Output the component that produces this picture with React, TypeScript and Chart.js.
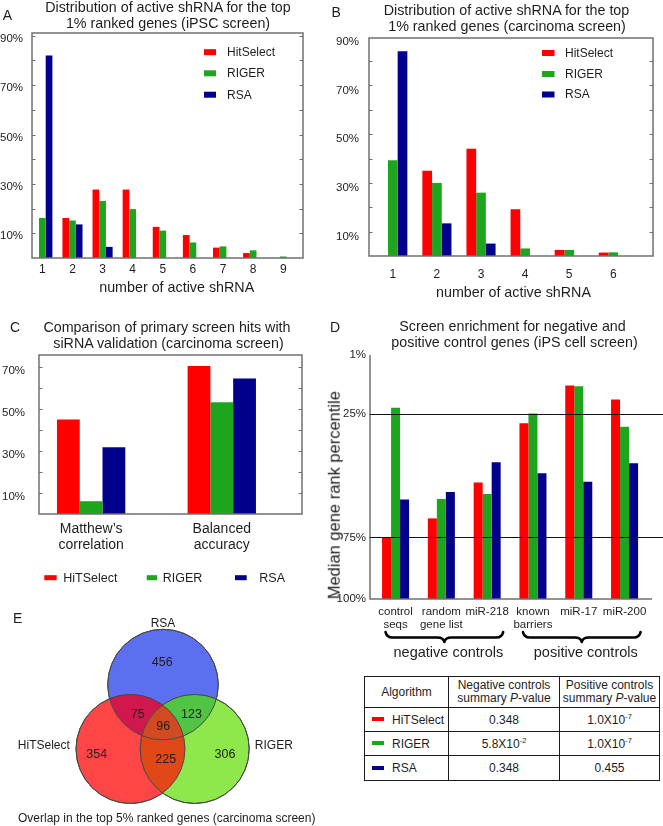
import React, { useEffect, useRef } from 'react';
import { Chart, registerables } from 'chart.js';

Chart.register(...registerables);

const FONT = "'Liberation Sans', Arial, Helvetica, sans-serif";
Chart.defaults.font.family = FONT;
Chart.defaults.color = '#1e1e1e';

const TEXT = '#1e1e1e';
const AXIS = '#707070';
const RED = '#ff0000';
const GREEN = '#1ea51e';
const BLUE = '#00008b';

// ---------------- Panel A (iPSC screen) ----------------
const activeCountsA = [1, 2, 3, 4, 5, 6, 7, 8, 9];
const hitSelectA = [0, 16.2, 27.7, 27.7, 12.6, 9.3, 4.2, 2.0, 0];
const rigerA = [16.2, 15.2, 23.1, 19.8, 11.1, 6.3, 4.7, 3.1, 0.6];
const rsaA = [82.0, 13.6, 4.5, 0, 0, 0, 0, 0, 0];

// ---------------- Panel B (carcinoma screen) ----------------
const activeCountsB = [1, 2, 3, 4, 5, 6];
const hitSelectB = [0, 35.0, 44.0, 19.2, 2.5, 1.4];
const rigerB = [39.3, 30.0, 26.0, 3.1, 2.5, 1.5];
const rsaB = [84.1, 13.4, 5.1, 0, 0, 0];

const percentTicksAB = [0, 10, 20, 30, 40, 50, 60, 70, 80, 90];
const percentTicksC = [0, 10, 20, 30, 40, 50, 60, 70];
const labelledPercents = [10, 30, 50, 70, 90];

// ---------------- Panel C ----------------
const metricsC = [['Matthew\u2019s', 'correlation'], ['Balanced', 'accuracy']];
const metricPositionsC = [1, 2];
const hitSelectC = [45.1, 70.5];
const rigerC = [6.1, 53.3];
const rsaC = [31.8, 64.6];

// ---------------- Panel D ----------------
const geneSetsD = [['control', 'seqs'], ['random', 'gene list'], 'miR-218', ['known', 'barriers'], 'miR-17', 'miR-200'];
const geneSetPositionsD = [1, 2, 3, 4, 5, 6];
const hitSelectD = [75.0, 67.3, 52.7, 28.7, 13.4, 19.1];
const rigerD = [22.4, 59.4, 57.4, 24.7, 13.7, 30.1];
const rsaD = [59.6, 56.6, 44.5, 49.0, 52.4, 44.9];
const percentileTicksD = [1, 25, 75, 100];
const referenceLinesD = [25, 75];
const controlGroupsD = [
  { label: 'negative controls', from: 1, to: 3 },
  { label: 'positive controls', from: 4, to: 6 },
];

// ---------------- Table ----------------
const tableAlgorithms = ['HiTSelect', 'RIGER', 'RSA'];
const tableColors = [RED, GREEN, BLUE];
const negativeP = ['0.348', '5.8X10^-2', '0.348'];
const positiveP = ['1.0X10^-7', '1.0X10^-7', '0.455'];

// ---------------- Panel E (Venn) ----------------
const vennSets = ['RSA', 'HiTSelect', 'RIGER'];
const vennSetColors = ['#5b6ff0', '#ff4646', '#8ee84c'];
const vennRegionCounts = [456, 354, 306, 75, 123, 225, 96]; // RSA only, Hit only, RIGER only, RSA∩Hit, RSA∩RIGER, Hit∩RIGER, all
const vennOverlapColors = { rsaHit: '#d0184e', rsaRiger: '#52c444', hitRiger: '#e04818', all: '#d24a20' };
const vennLayout = [
  { x: 163, y: 84.6, r: 55.3 },
  { x: 130.5, y: 149, r: 54.5 },
  { x: 194.7, y: 149, r: 54.5 },
];
const vennLabelPos = [
  [162.3, 61], [96.7, 153.3], [225, 153.3], [137.8, 113.5], [191.5, 113.5], [165.7, 158.3], [163.3, 125],
];

type Area = { left: number; top: number; right: number; bottom: number };

function framePlugin(tickLen: number) {
  return {
    id: 'frameTicks',
    afterDatasetsDraw(chart: any) {
      const { ctx, chartArea: a } = chart;
      const y = chart.scales.y;
      ctx.save();
      ctx.strokeStyle = AXIS;
      ctx.lineWidth = 1.5;
      ctx.strokeRect(a.left, a.top, a.right - a.left, a.bottom - a.top);
      ctx.lineWidth = 1;
      ctx.beginPath();
      y.ticks.forEach((t: any) => {
        const py = Math.round(y.getPixelForValue(t.value)) + 0.5;
        if (py < a.top + 2 || py > a.bottom - 2) return;
        ctx.moveTo(a.left, py);
        ctx.lineTo(a.left + tickLen, py);
        ctx.moveTo(a.right, py);
        ctx.lineTo(a.right - tickLen, py);
      });
      ctx.stroke();
      ctx.restore();
    },
  };
}

type LegendItem = { text: string; color: string; bx: number; bw: number; tx: number; y: number };

function legendPlugin(items: LegendItem[], boxH: number, size: number) {
  return {
    id: 'panelLegend',
    afterDraw(chart: any) {
      const ctx = chart.ctx;
      ctx.save();
      ctx.font = `${size}px ${FONT}`;
      ctx.textBaseline = 'middle';
      ctx.textAlign = 'left';
      items.forEach((it) => {
        ctx.fillStyle = it.color;
        ctx.fillRect(it.bx, it.y - boxH / 2, it.bw, boxH);
        ctx.fillStyle = TEXT;
        ctx.fillText(it.text, it.tx, it.y + 0.5);
      });
      ctx.restore();
    },
  };
}

interface BarSpec {
  W: number;
  H: number;
  area: Area;
  positions: number[];
  series: { name: string; data: number[]; color: string }[];
  xMin: number;
  xMax: number;
  yMax: number;
  yTicks: number[];
  yLabelOffset: number;
  yPad: number;
  xPad: number;
  catPct: number;
  xFont: any;
  xLabel: (v: number) => any;
  legendItems: LegendItem[];
  legendBoxH: number;
  legendSize: number;
}

function framedBarConfig(s: BarSpec): any {
  return {
    type: 'bar',
    data: {
      labels: s.positions,
      datasets: s.series.map((d) => ({
        label: d.name,
        data: d.data,
        backgroundColor: d.color,
        borderWidth: 0,
        categoryPercentage: s.catPct,
        barPercentage: 1,
      })),
    },
    options: {
      responsive: false,
      animation: false,
      devicePixelRatio: 1,
      events: [],
      layout: { padding: { left: 0, top: s.area.top, right: s.W - s.area.right, bottom: 0 } },
      plugins: { legend: { display: false }, tooltip: { enabled: false }, title: { display: false } },
      scales: {
        x: {
          type: 'linear',
          min: s.xMin,
          max: s.xMax,
          offset: false,
          grid: { display: false, drawTicks: false },
          border: { display: false },
          afterBuildTicks: (sc: any) => {
            sc.ticks = s.positions.map((v) => ({ value: v }));
          },
          afterFit: (sc: any) => {
            sc.height = s.H - s.area.bottom;
          },
          ticks: {
            autoSkip: false,
            maxRotation: 0,
            padding: s.xPad,
            font: s.xFont,
            color: TEXT,
            callback: (v: any) => s.xLabel(Number(v)),
          },
        },
        y: {
          type: 'linear',
          min: 0,
          max: s.yMax,
          grid: { display: false, drawTicks: false },
          border: { display: false },
          afterBuildTicks: (sc: any) => {
            sc.ticks = s.yTicks.map((v) => ({ value: v }));
          },
          afterFit: (sc: any) => {
            sc.width = s.area.left;
          },
          ticks: {
            padding: s.yPad,
            labelOffset: s.yLabelOffset,
            font: { size: 11.5 },
            color: TEXT,
            callback: (v: any) => (labelledPercents.includes(Number(v)) ? `${v}%` : ''),
          },
        },
      },
    },
    plugins: [framePlugin(3.5), legendPlugin(s.legendItems, s.legendBoxH, s.legendSize)],
  };
}

const configA = () =>
  framedBarConfig({
    W: 330,
    H: 300,
    area: { left: 32, top: 33, right: 303, bottom: 258 },
    positions: activeCountsA,
    series: [
      { name: 'HitSelect', data: hitSelectA, color: RED },
      { name: 'RIGER', data: rigerA, color: GREEN },
      { name: 'RSA', data: rsaA, color: BLUE },
    ],
    xMin: 0.656,
    xMax: 9.656,
    yMax: 91.1,
    yTicks: percentTicksAB,
    yLabelOffset: 3,
    yPad: 9,
    xPad: 4,
    catPct: 0.667,
    xFont: { size: 12 },
    xLabel: (v) => String(v),
    legendItems: [
      { text: 'HitSelect', color: RED, bx: 204, bw: 12, tx: 227, y: 52.2 },
      { text: 'RIGER', color: GREEN, bx: 204, bw: 12, tx: 227, y: 73.3 },
      { text: 'RSA', color: BLUE, bx: 204, bw: 12, tx: 227, y: 94.7 },
    ],
    legendBoxH: 6,
    legendSize: 12,
  });

const configB = () =>
  framedBarConfig({
    W: 333,
    H: 300,
    area: { left: 39, top: 38, right: 323, bottom: 256 },
    positions: activeCountsB,
    series: [
      { name: 'HitSelect', data: hitSelectB, color: RED },
      { name: 'RIGER', data: rigerB, color: GREEN },
      { name: 'RSA', data: rsaB, color: BLUE },
    ],
    xMin: 0.46,
    xMax: 6.9,
    yMax: 89.5,
    yTicks: percentTicksAB,
    yLabelOffset: 5,
    yPad: 10,
    xPad: 11,
    catPct: 0.66,
    xFont: { size: 12 },
    xLabel: (v) => String(v),
    legendItems: [
      { text: 'HitSelect', color: RED, bx: 212, bw: 12.5, tx: 235, y: 53 },
      { text: 'RIGER', color: GREEN, bx: 212, bw: 12.5, tx: 235, y: 74 },
      { text: 'RSA', color: BLUE, bx: 212, bw: 12.5, tx: 235, y: 94.5 },
    ],
    legendBoxH: 6,
    legendSize: 12,
  });

const configC = () =>
  framedBarConfig({
    W: 330,
    H: 295,
    area: { left: 39, top: 55, right: 302, bottom: 214 },
    positions: metricPositionsC,
    series: [
      { name: 'HiTSelect', data: hitSelectC, color: RED },
      { name: 'RIGER', data: rigerC, color: GREEN },
      { name: 'RSA', data: rsaC, color: BLUE },
    ],
    xMin: 0.601,
    xMax: 2.614,
    yMax: 75.8,
    yTicks: percentTicksC,
    yLabelOffset: 4,
    yPad: 14,
    xPad: 7,
    catPct: 0.523,
    xFont: { size: 14, lineHeight: 16 / 14 },
    xLabel: (v) => metricsC[v - 1],
    legendItems: [
      { text: 'HiTSelect', color: RED, bx: 44.3, bw: 12.4, tx: 63.3, y: 277.7 },
      { text: 'RIGER', color: GREEN, bx: 146.7, bw: 10.5, tx: 162.7, y: 277.7 },
      { text: 'RSA', color: BLUE, bx: 235, bw: 11.7, tx: 259.3, y: 277.7 },
    ],
    legendBoxH: 5,
    legendSize: 12.5,
  });

function drawBrace(ctx: CanvasRenderingContext2D, x1: number, x2: number, top: number, h: number) {
  const xm = (x1 + x2) / 2;
  const mid = top + h * 0.55;
  const q = 7;
  ctx.beginPath();
  ctx.moveTo(x1, top);
  ctx.quadraticCurveTo(x1 + 1, mid, x1 + q, mid);
  ctx.lineTo(xm - q, mid);
  ctx.quadraticCurveTo(xm - 1, mid, xm, top + h);
  ctx.quadraticCurveTo(xm + 1, mid, xm + q, mid);
  ctx.lineTo(x2 - q, mid);
  ctx.quadraticCurveTo(x2 - 1, mid, x2, top);
  ctx.stroke();
}

const dDecorPlugin = {
  id: 'dDecor',
  afterDatasetsDraw(chart: any) {
    const { ctx, chartArea: a } = chart;
    const x = chart.scales.x;
    const y = chart.scales.y;
    ctx.save();
    ctx.strokeStyle = AXIS;
    ctx.lineWidth = 1.5;
    ctx.beginPath();
    ctx.moveTo(a.left, a.top);
    ctx.lineTo(a.left, a.bottom);
    ctx.lineTo(a.right, a.bottom);
    ctx.stroke();
    ctx.strokeStyle = '#111';
    ctx.lineWidth = 1;
    referenceLinesD.forEach((v) => {
      const py = Math.round(y.getPixelForValue(v)) + 0.5;
      ctx.beginPath();
      ctx.moveTo(a.left, py);
      ctx.lineTo(chart.width, py);
      ctx.stroke();
    });
    ctx.strokeStyle = '#000';
    ctx.lineWidth = 2.6;
    ctx.lineCap = 'round';
    ctx.lineJoin = 'round';
    ctx.fillStyle = TEXT;
    ctx.font = `14.5px ${FONT}`;
    ctx.textAlign = 'center';
    ctx.textBaseline = 'alphabetic';
    controlGroupsD.forEach((g) => {
      const x1 = x.getPixelForValue(g.from) - 10;
      const x2 = x.getPixelForValue(g.to) + 16;
      drawBrace(ctx, x1, x2, a.bottom + 33, 10);
      ctx.fillText(g.label, (x1 + x2) / 2 + 4, a.bottom + 58);
    });
    ctx.restore();
  },
};

const configD = () => {
  const W = 333;
  const H = 365;
  const area = { left: 40, top: 55, right: 322, bottom: 299 };
  const series = [
    { name: 'HiTSelect', data: hitSelectD, color: RED },
    { name: 'RIGER', data: rigerD, color: GREEN },
    { name: 'RSA', data: rsaD, color: BLUE },
  ];
  return {
    type: 'bar',
    data: {
      labels: geneSetPositionsD,
      datasets: series.map((d) => ({
        label: d.name,
        data: d.data,
        backgroundColor: d.color,
        borderWidth: 0,
        base: 100,
        categoryPercentage: 0.59,
        barPercentage: 1,
      })),
    },
    options: {
      responsive: false,
      animation: false,
      devicePixelRatio: 1,
      events: [],
      layout: { padding: { left: 0, top: area.top, right: W - area.right, bottom: 0 } },
      plugins: { legend: { display: false }, tooltip: { enabled: false }, title: { display: false } },
      scales: {
        x: {
          type: 'linear',
          min: 0.442,
          max: 6.599,
          offset: false,
          grid: { display: false, drawTicks: false },
          border: { display: false },
          afterBuildTicks: (sc: any) => {
            sc.ticks = geneSetPositionsD.map((v) => ({ value: v }));
          },
          afterFit: (sc: any) => {
            sc.height = H - area.bottom;
          },
          ticks: {
            autoSkip: false,
            maxRotation: 0,
            padding: 6,
            font: { size: 11.5, lineHeight: 1.15 },
            color: TEXT,
            callback: (v: any) => geneSetsD[Number(v) - 1],
          },
        },
        y: {
          type: 'linear',
          min: 1,
          max: 100,
          reverse: true,
          grid: { display: false, drawTicks: false },
          border: { display: false },
          afterBuildTicks: (sc: any) => {
            sc.ticks = percentileTicksD.map((v) => ({ value: v }));
          },
          afterFit: (sc: any) => {
            sc.width = area.left;
          },
          ticks: { padding: 4, font: { size: 11.5 }, color: TEXT, callback: (v: any) => `${v}%` },
        },
      },
    },
    plugins: [dDecorPlugin],
  };
};

const vennPlugin = {
  id: 'vennOverlaps',
  afterDatasetsDraw(chart: any) {
    const ctx: CanvasRenderingContext2D = chart.ctx;
    const els = chart.getDatasetMeta(0).data;
    const circ = (i: number) => ({ x: els[i].x, y: els[i].y, r: els[i].options.radius });
    const [S, H, G] = [0, 1, 2].map(circ);
    const path = (c: any) => {
      ctx.beginPath();
      ctx.arc(c.x, c.y, c.r, 0, Math.PI * 2);
    };
    const fillIn = (clips: any[], target: any, color: string) => {
      ctx.save();
      clips.forEach((c) => {
        path(c);
        ctx.clip();
      });
      path(target);
      ctx.fillStyle = color;
      ctx.fill();
      ctx.restore();
    };
    fillIn([H], S, vennOverlapColors.rsaHit);
    fillIn([G], S, vennOverlapColors.rsaRiger);
    fillIn([H], G, vennOverlapColors.hitRiger);
    fillIn([H, G], S, vennOverlapColors.all);
    ctx.save();
    ctx.strokeStyle = '#4a4a4a';
    ctx.lineWidth = 1;
    [S, H, G].forEach((c) => {
      path(c);
      ctx.stroke();
    });
    ctx.fillStyle = TEXT;
    ctx.textAlign = 'center';
    ctx.textBaseline = 'alphabetic';
    ctx.font = `12.5px ${FONT}`;
    vennRegionCounts.forEach((n, i) => {
      const [px, py] = vennLabelPos[i];
      ctx.fillText(String(n), px, py + 4.5);
    });
    ctx.font = `12px ${FONT}`;
    ctx.fillText(vennSets[0], S.x, 26.6);
    ctx.fillText(vennSets[1], 43.8, 149.3);
    ctx.fillText(vennSets[2], 273.8, 149.3);
    ctx.fillText('Overlap in the top 5% ranked genes (carcinoma screen)', 166.7, 222.3);
    ctx.restore();
  },
};

const configE = () => ({
  type: 'bubble',
  data: {
    datasets: [
      {
        label: 'sets',
        data: vennLayout.map((c) => ({ x: c.x, y: c.y, r: c.r })),
        backgroundColor: vennSetColors,
        borderColor: '#4a4a4a',
        borderWidth: 1,
        clip: false,
      },
    ],
  },
  options: {
    responsive: false,
    animation: false,
    devicePixelRatio: 1,
    events: [],
    layout: { padding: 0, autoPadding: false },
    plugins: { legend: { display: false }, tooltip: { enabled: false } },
    scales: {
      x: { display: false, min: 0, max: 330 },
      y: { display: false, min: 0, max: 226, reverse: true },
    },
  },
  plugins: [vennPlugin],
});

function ChartBox({ x, y, w, h, config }: { x: number; y: number; w: number; h: number; config: () => any }) {
  const ref = useRef<HTMLCanvasElement | null>(null);
  useEffect(() => {
    const chart = new Chart(ref.current as HTMLCanvasElement, config());
    return () => chart.destroy();
  }, []);
  return (
    <canvas ref={ref} width={w} height={h} style={{ position: 'absolute', left: x, top: y, width: w, height: h }} />
  );
}

function Txt({ x, y, size, children, anchor = 'middle' }: any) {
  const top = y - 0.8465 * size;
  const common: any = {
    position: 'absolute',
    top,
    fontSize: size,
    lineHeight: `${size}px`,
    whiteSpace: 'nowrap',
    color: TEXT,
  };
  if (anchor === 'start') return <div style={{ ...common, left: x }}>{children}</div>;
  return <div style={{ ...common, left: x - 200, width: 400, textAlign: 'center' }}>{children}</div>;
}

function PValue({ v }: { v: string }) {
  const [base, exp] = v.split('^');
  return (
    <span>
      {base}
      {exp ? <sup style={{ fontSize: 7.5, verticalAlign: 'top', position: 'relative', top: -1 }}>{exp}</sup> : null}
    </span>
  );
}

export default function App() {
  const cell: any = {
    border: '1px solid #1a1a1a',
    padding: 0,
    textAlign: 'center',
    verticalAlign: 'middle',
  };
  const rowHeights = [24, 24, 25];
  return (
    <div
      style={{
        position: 'absolute',
        left: 0,
        top: 0,
        width: 663,
        height: 826,
        overflow: 'hidden',
        background: '#fff',
        fontFamily: FONT,
        color: TEXT,
      }}
    >
      <ChartBox x={0} y={0} w={330} h={300} config={configA} />
      <ChartBox x={330} y={0} w={333} h={300} config={configB} />
      <ChartBox x={0} y={300} w={330} h={295} config={configC} />
      <ChartBox x={330} y={300} w={333} h={365} config={configD} />
      <ChartBox x={0} y={600} w={330} h={226} config={configE} />

      {/* panel letters */}
      <Txt x={2.7} y={20} size={14} anchor="start">A</Txt>
      <Txt x={331.5} y={16.7} size={14} anchor="start">B</Txt>
      <Txt x={10} y={331.7} size={14} anchor="start">C</Txt>
      <Txt x={330} y={331.7} size={14} anchor="start">D</Txt>
      <Txt x={13} y={623.3} size={14} anchor="start">E</Txt>

      {/* titles */}
      <Txt x={168} y={12.5} size={14.3}>Distribution of active shRNA for the top</Txt>
      <Txt x={168} y={28.5} size={14.3}>1% ranked genes (iPSC screen)</Txt>
      <Txt x={506.5} y={15} size={14.3}>Distribution of active shRNA for the top</Txt>
      <Txt x={507} y={31} size={14.3}>1% ranked genes (carcinoma screen)</Txt>
      <Txt x={167} y={331.7} size={14.3}>Comparison of primary screen hits with</Txt>
      <Txt x={168.5} y={347.7} size={14.3}>siRNA validation (carcinoma screen)</Txt>
      <Txt x={512.5} y={331.5} size={14.3}>Screen enrichment for negative and</Txt>
      <Txt x={514.5} y={347} size={14.3}>positive control genes (iPS cell screen)</Txt>

      {/* axis titles */}
      <Txt x={176.7} y={292.5} size={14.3}>number of active shRNA</Txt>
      <Txt x={513.5} y={297.5} size={14.3}>number of active shRNA</Txt>
      <div
        style={{
          position: 'absolute',
          left: 334 - 150,
          top: 495.5 - 8.25,
          width: 300,
          height: 16.5,
          lineHeight: '16.5px',
          fontSize: 16.5,
          textAlign: 'center',
          whiteSpace: 'nowrap',
          transform: 'rotate(-90deg)',
          transformOrigin: '50% 50%',
          color: TEXT,
        }}
      >
        Median gene rank percentile
      </div>

      {/* summary table */}
      <table
        style={{
          position: 'absolute',
          left: 364,
          top: 676,
          width: 295,
          borderCollapse: 'collapse',
          tableLayout: 'fixed',
          fontFamily: FONT,
          fontSize: 12,
          color: TEXT,
        }}
      >
        <colgroup>
          <col style={{ width: 84 }} />
          <col style={{ width: 111 }} />
          <col style={{ width: 100 }} />
        </colgroup>
        <tbody>
          <tr style={{ height: 31 }}>
            <td style={cell}>Algorithm</td>
            <td style={{ ...cell, lineHeight: '13.5px' }}>
              Negative controls
              <br />
              summary <i>P</i>-value
            </td>
            <td style={{ ...cell, lineHeight: '13.5px' }}>
              Positive controls
              <br />
              summary <i>P</i>-value
            </td>
          </tr>
          {tableAlgorithms.map((alg, i) => (
            <tr key={alg} style={{ height: rowHeights[i] }}>
              <td style={{ ...cell, textAlign: 'left', paddingLeft: 7, whiteSpace: 'nowrap' }}>
                <span
                  style={{
                    display: 'inline-block',
                    width: 12,
                    height: 4,
                    background: tableColors[i],
                    verticalAlign: 'middle',
                    marginRight: 8,
                    position: 'relative',
                    top: -1,
                  }}
                />
                {alg}
              </td>
              <td style={cell}>
                <PValue v={negativeP[i]} />
              </td>
              <td style={cell}>
                <PValue v={positiveP[i]} />
              </td>
            </tr>
          ))}
        </tbody>
      </table>
    </div>
  );
}
